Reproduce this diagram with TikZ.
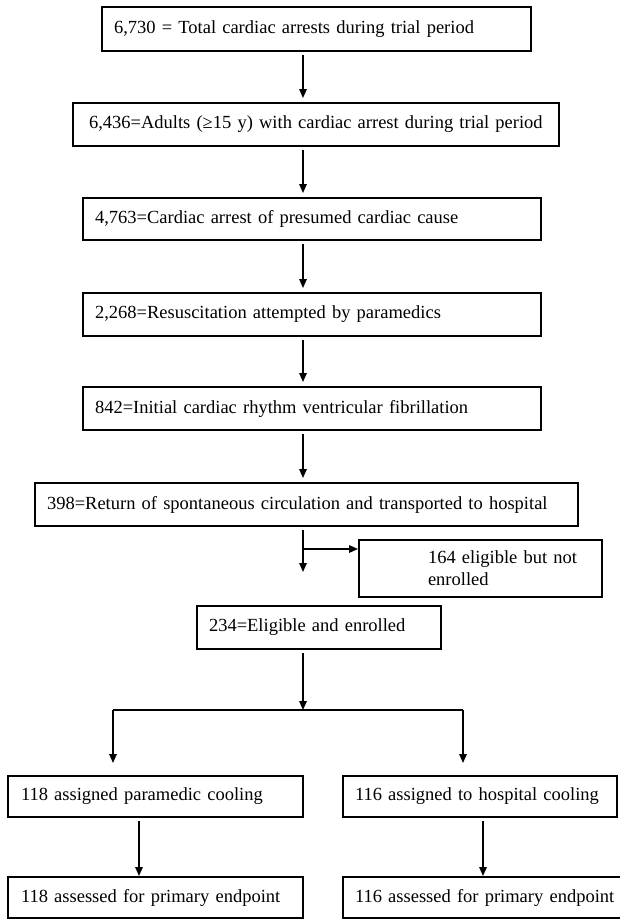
\documentclass[tikz,border=0pt]{standalone}
\usepackage{fontspec}
\setmainfont{Liberation Serif}
\usetikzlibrary{arrows.meta}

\begin{document}
\begin{tikzpicture}[x=1pt,y=-1pt,
	box/.style={draw,line width=1.8pt,anchor=north west,outer sep=0pt,inner xsep=12pt,inner ysep=0pt,
		align=left,minimum height=43pt,font=\fontsize{18.5}{22}\selectfont},
	arr/.style={line width=1.5pt,-{Triangle[length=9pt,width=7.5pt]},shorten <=4pt,shorten >=5pt}]
	\useasboundingbox (0,0) rectangle (619,919);
	\node[box,text width=405pt,minimum height=44pt] (total) at (102,7) {6,730 = Total cardiac arrests during trial period};
	\node[box,text width=460pt,inner xsep=13pt] (adults) at (73,103) {\hspace*{3pt}6,436=Adults (≥15 y) with cardiac arrest during trial period};
	\node[box,text width=434pt,minimum height=42pt] (cause) at (83,198) {4,763=Cardiac arrest of presumed cardiac cause};
	\node[box,text width=434pt] (resus) at (83,293) {2,268=Resuscitation attempted by paramedics};
	\node[box,text width=434pt] (vf) at (83,387) {842=Initial cardiac rhythm ventricular fibrillation};
	\node[box,text width=519pt] (rosc) at (35,483) {398=Return of spontaneous circulation and transported to hospital};
	\node[box,text width=219pt,minimum height=57pt] (notenrolled) at (359,540) {\hspace*{57pt}164 eligible but not\\\hspace*{57pt}enrolled};
	\node[box,text width=220pt] (enrolled) at (197,606) {234=Eligible and enrolled};
	\node[box,text width=275pt,inner xsep=10pt,minimum height=41pt] (paramedic) at (8,776) {\hspace*{3pt}118 assigned paramedic cooling};
	\node[box,text width=256pt,inner xsep=9pt,minimum height=41pt] (hospital) at (343,776) {\hspace*{3pt}116 assigned to hospital cooling};
	\node[box,text width=275pt,inner xsep=10pt,minimum height=41pt] (paramedicend) at (8,877) {\hspace*{3pt}118 assessed for primary endpoint};
	\node[box,text width=264pt,inner xsep=9pt,minimum height=41pt] (hospitalend) at (343,877) {\hspace*{3pt}116 assessed for primary endpoint};

	\coordinate (spine) at (303,0);
	\coordinate (lcol) at (113,0);
	\coordinate (rcol) at (463,0);
	\coordinate (lsub) at (139,0);
	\coordinate (rsub) at (483,0);
	\coordinate (fork) at (303,549);
	\coordinate (stop) at (303,572);
	\coordinate (split) at (303,710);

	\draw[arr] (total.south -| spine) -- (adults.north -| spine);
	\draw[arr] (adults.south -| spine) -- (cause.north -| spine);
	\draw[arr] (cause.south -| spine) -- (resus.north -| spine);
	\draw[arr] (resus.south -| spine) -- (vf.north -| spine);
	\draw[arr] (vf.south -| spine) -- (rosc.north -| spine);
	\draw[arr,shorten >=0pt] (rosc.south -| spine) -- (stop);
	\draw[arr,shorten <=0pt,shorten >=1pt] (fork) -- (fork -| notenrolled.west);
	\draw[arr,shorten >=0pt] (enrolled.south -| spine) -- (split);
	\draw[line width=1.5pt] (split -| lcol) -- (split -| rcol);
	\draw[arr,shorten <=0pt,shorten >=13pt] (split -| lcol) -- (paramedic.north -| lcol);
	\draw[arr,shorten <=0pt,shorten >=13pt] (split -| rcol) -- (hospital.north -| rcol);
	\draw[arr,shorten >=1pt] (paramedic.south -| lsub) -- (paramedicend.north -| lsub);
	\draw[arr,shorten >=1pt] (hospital.south -| rsub) -- (hospitalend.north -| rsub);
\end{tikzpicture}
\end{document}
